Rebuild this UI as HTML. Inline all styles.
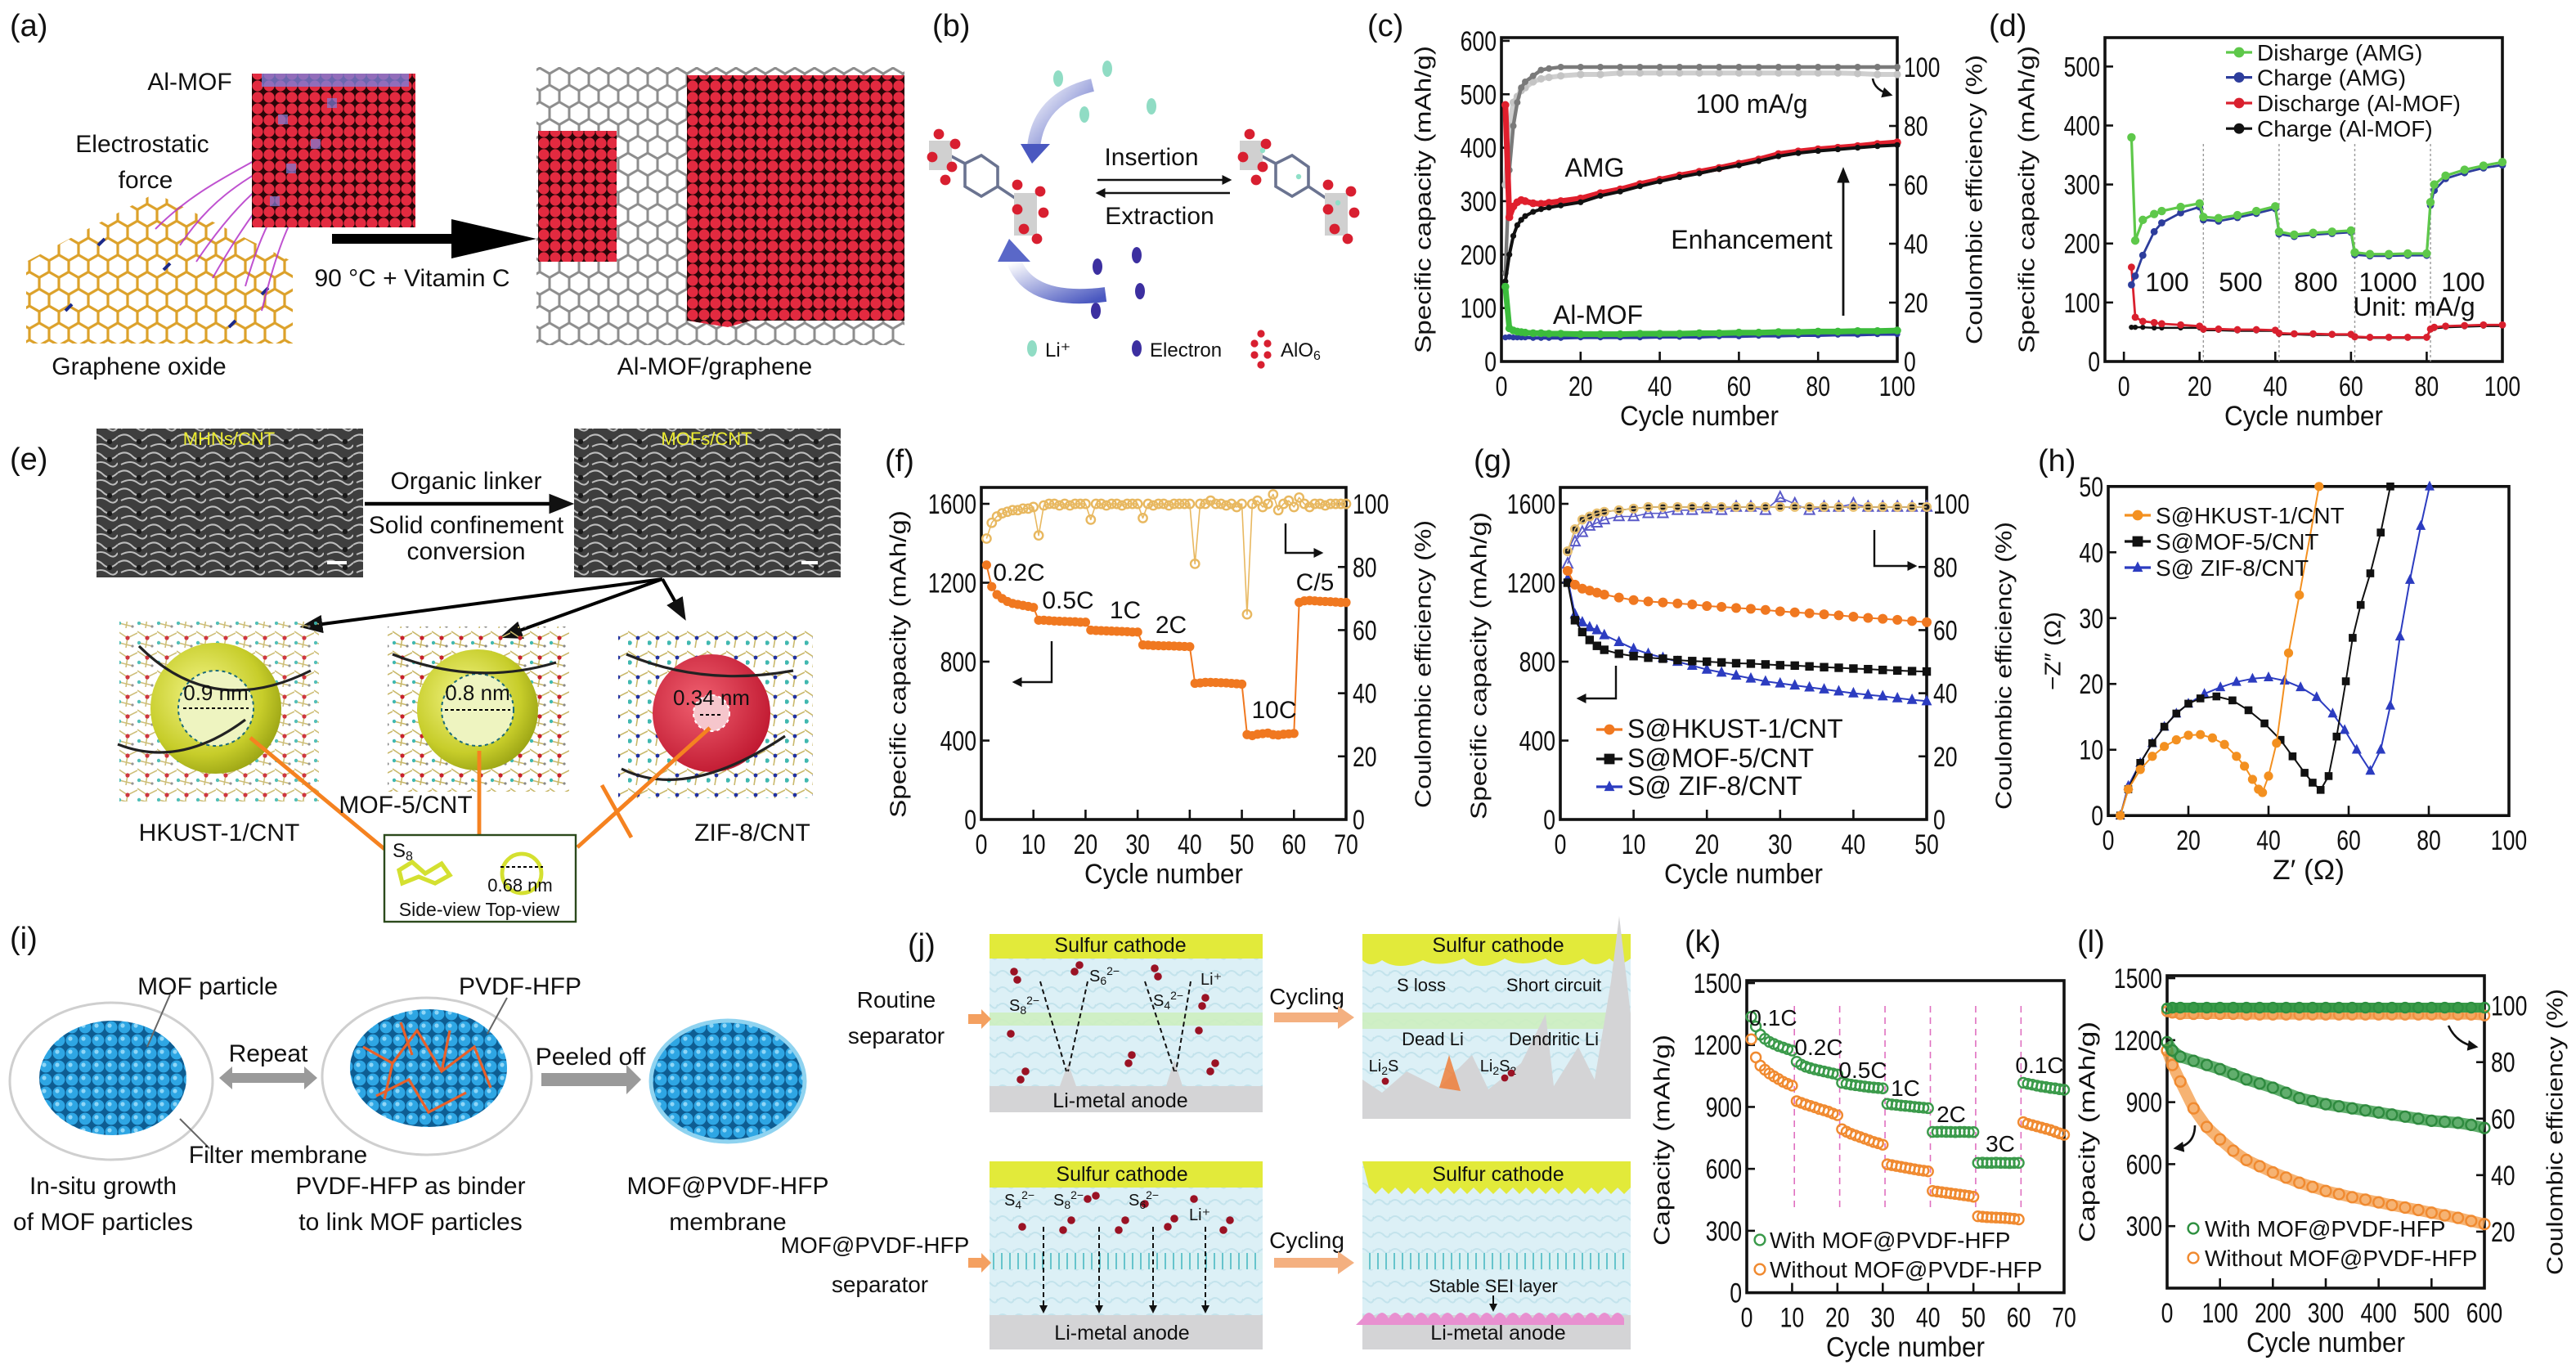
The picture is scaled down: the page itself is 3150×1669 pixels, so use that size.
<!DOCTYPE html>
<html><head><meta charset="utf-8"><title>MOF battery figure</title>
<style>
html,body{margin:0;padding:0;background:#fff;}
svg{display:block;}
text{font-family:"Liberation Sans Narrow","Liberation Sans",sans-serif;fill:#111;}
.pl{font-size:19px;font-family:"Liberation Sans",sans-serif;}
.t{font-size:15px;}
.tw{font-family:"DejaVu Sans","Liberation Sans",sans-serif;}
</style></head>
<body>
<svg id="fig" xmlns="http://www.w3.org/2000/svg" width="3150" height="1669" viewBox="0 0 1575 834.5">
<defs>
<pattern id="hexO" patternUnits="userSpaceOnUse" width="12" height="20.78"><path id="hexOp" d="" fill="none" stroke="#dca12a" stroke-width="1.6"/></pattern>
<pattern id="hexG" patternUnits="userSpaceOnUse" width="12" height="20.78"><path id="hexGp" d="" fill="none" stroke="#8d8d8d" stroke-width="1.5"/></pattern>
<pattern id="redDots" patternUnits="userSpaceOnUse" width="7" height="7"><rect width="7" height="7" fill="#2a0508"/><circle cx="3.5" cy="3.5" r="3.3" fill="#e32a40"/></pattern>
<pattern id="blueDots" patternUnits="userSpaceOnUse" width="8" height="8"><rect width="8" height="8" fill="#0e5d92"/><circle cx="4" cy="4" r="3.7" fill="#2ea6e4"/><circle cx="3" cy="3" r="1.3" fill="#8fd6f7"/></pattern>
<pattern id="sem" patternUnits="userSpaceOnUse" width="18" height="11"><rect width="18" height="11" fill="#3e3e3e"/><path d="M0,3 Q5,0 9,4 T18,3 M2,9 Q8,6 12,9 T18,8" stroke="#bdbdbd" stroke-width="1" fill="none"/><circle cx="13" cy="6" r="1.6" fill="#1a1a1a"/></pattern>
<pattern id="latt" patternUnits="userSpaceOnUse" width="12" height="12"><path d="M0,2 L6,6 L12,3 M6,6 L5,12 M1,9 L9,11" stroke="#c9b86a" stroke-width="0.8" fill="none"/><circle cx="6" cy="6" r="1.3" fill="#c8202a"/><circle cx="1" cy="9" r="1.1" fill="#40b8b0"/><circle cx="9" cy="11" r="0.8" fill="#888"/></pattern>
<pattern id="lattZ" patternUnits="userSpaceOnUse" width="12" height="12"><path d="M0,2 L6,6 L12,3 M6,6 L5,12" stroke="#c9b86a" stroke-width="0.8" fill="none"/><circle cx="6" cy="6" r="1.2" fill="#2030a0"/><circle cx="1" cy="9" r="1.4" fill="#40b8b0"/></pattern>
<pattern id="fluid" patternUnits="userSpaceOnUse" width="10" height="10"><rect width="10" height="10" fill="#dcf0f6"/><path d="M0,5 Q3,2 6,5 T10,4" stroke="#c3e3ec" stroke-width="1" fill="none"/></pattern>
<pattern id="mofSep" patternUnits="userSpaceOnUse" width="5" height="9"><rect width="5" height="9" fill="#d8f0f2"/><line x1="2.5" y1="0" x2="2.5" y2="9" stroke="#66c4cc" stroke-width="1"/></pattern>
<radialGradient id="gY" cx="40%" cy="40%" r="65%"><stop offset="0" stop-color="#f4f68a"/><stop offset="0.7" stop-color="#c7cd2a"/><stop offset="1" stop-color="#9aa314"/></radialGradient>
<radialGradient id="gR" cx="40%" cy="40%" r="65%"><stop offset="0" stop-color="#f06070"/><stop offset="1" stop-color="#c01830"/></radialGradient>
<linearGradient id="gArr" x1="0" y1="0" x2="1" y2="1"><stop offset="0" stop-color="#ffffff"/><stop offset="1" stop-color="#4a58c0"/></linearGradient>
<marker id="ah" viewBox="0 0 10 10" refX="8" refY="5" markerWidth="5" markerHeight="5" orient="auto"><path d="M0,0 L10,5 L0,10 z" fill="#111"/></marker>
<marker id="ahs" viewBox="0 0 10 10" refX="8" refY="5" markerWidth="7" markerHeight="7" orient="auto"><path d="M0,1 L10,5 L0,9 z" fill="#111"/></marker>
</defs>
<rect x="0" y="0" width="1575" height="834.5" fill="#fff"/>

<!-- ===== (a) ===== -->
<g>
<text class="pl" x="6" y="22">(a)</text>
<polygon points="16,160 95,118 179,160 179,210 16,210" fill="url(#hexO)"/>
<g stroke="#1c2a8a" stroke-width="2"><line x1="40" y1="190" x2="44" y2="186"/><line x1="100" y1="165" x2="104" y2="161"/><line x1="140" y1="200" x2="144" y2="196"/><line x1="60" y1="150" x2="64" y2="146"/><line x1="160" y1="180" x2="164" y2="176"/></g>
<g stroke="#b534c8" stroke-width="1" fill="none" opacity="0.85">
<path d="M110,150 C130,120 150,110 175,95"/><path d="M120,160 C140,130 160,110 180,100"/><path d="M95,140 C120,115 145,105 170,90"/><path d="M150,175 C160,140 170,120 190,105"/><path d="M160,190 C170,150 180,120 200,110"/><path d="M130,170 C150,135 165,115 185,98"/></g>
<rect x="154" y="45" width="100" height="94" fill="url(#redDots)"/>
<rect x="160" y="45" width="90" height="8" fill="#7d7ed8" opacity="0.8"/>
<g fill="#7d7ed8" opacity="0.7"><rect x="170" y="70" width="6" height="6"/><rect x="190" y="85" width="6" height="6"/><rect x="175" y="100" width="6" height="6"/><rect x="200" y="60" width="6" height="6"/><rect x="165" y="120" width="6" height="6"/></g>
<text class="t" x="116" y="55" text-anchor="middle">Al-MOF</text>
<text class="t" x="87" y="93" text-anchor="middle">Electrostatic</text>
<text class="t" x="89" y="115" text-anchor="middle">force</text>
<polygon points="203,143 276,143 276,134 328,146 276,158 276,149 203,149" fill="#000"/>
<text class="t" x="252" y="175" text-anchor="middle">90 °C + Vitamin C</text>
<text class="t" x="85" y="229" text-anchor="middle">Graphene oxide</text>
<rect x="328" y="41" width="225" height="170" fill="url(#hexG)"/>
<rect x="420" y="46" width="133" height="150" fill="url(#redDots)"/>
<polygon points="420,196 553,196 553,170 445,200" fill="url(#redDots)"/>
<rect x="329" y="80" width="48" height="80" fill="url(#redDots)"/>
<text class="t" x="437" y="229" text-anchor="middle">Al-MOF/graphene</text>
</g>

<!-- ===== (b) ===== -->
<g>
<text class="pl" x="570" y="22">(b)</text>
<g>
<path d="M575,92 L590,100 L600,95 L610,102 L610,114 L600,120 L590,114 L590,100 M610,114 L622,122 L630,130" stroke="#6a7390" stroke-width="1.8" fill="none"/>
<rect x="568" y="86" width="14" height="18" fill="#d0d0d0"/><rect x="620" y="118" width="14" height="26" fill="#d0d0d0"/>
<g fill="#d81f30"><circle cx="574" cy="82" r="3.2"/><circle cx="584" cy="88" r="3.2"/><circle cx="570" cy="96" r="3.2"/><circle cx="582" cy="102" r="3.2"/><circle cx="578" cy="110" r="3.2"/><circle cx="622" cy="113" r="3.2"/><circle cx="636" cy="117" r="3.2"/><circle cx="622" cy="128" r="3.2"/><circle cx="638" cy="130" r="3.2"/><circle cx="626" cy="140" r="3.2"/><circle cx="634" cy="146" r="3.2"/></g></g>
<g transform="translate(190,0)">
<path d="M575,92 L590,100 L600,95 L610,102 L610,114 L600,120 L590,114 L590,100 M610,114 L622,122 L630,130" stroke="#6a7390" stroke-width="1.8" fill="none"/>
<rect x="568" y="86" width="14" height="18" fill="#d0d0d0"/><rect x="620" y="118" width="14" height="26" fill="#d0d0d0"/>
<g fill="#d81f30"><circle cx="574" cy="82" r="3.2"/><circle cx="584" cy="88" r="3.2"/><circle cx="570" cy="96" r="3.2"/><circle cx="582" cy="102" r="3.2"/><circle cx="578" cy="110" r="3.2"/><circle cx="622" cy="113" r="3.2"/><circle cx="636" cy="117" r="3.2"/><circle cx="622" cy="128" r="3.2"/><circle cx="638" cy="130" r="3.2"/><circle cx="626" cy="140" r="3.2"/><circle cx="634" cy="146" r="3.2"/></g>
<g fill="#8fe0c8"><circle cx="582" cy="92" r="1.6"/><circle cx="604" cy="108" r="1.6"/><circle cx="628" cy="124" r="1.6"/></g></g>
<g fill="#90dcc4"><ellipse cx="647" cy="48" rx="3" ry="5"/><ellipse cx="677" cy="42" rx="3" ry="5"/><ellipse cx="663" cy="70" rx="3" ry="5"/><ellipse cx="704" cy="65" rx="3" ry="5"/></g>
<g fill="#3c2fa0"><ellipse cx="695" cy="156" rx="3" ry="5"/><ellipse cx="671" cy="163" rx="3" ry="5"/><ellipse cx="697" cy="178" rx="3" ry="5"/><ellipse cx="670" cy="190" rx="3" ry="5"/></g>
<path d="M668,52 Q635,60 632,90" stroke="url(#gArr)" stroke-width="8" fill="none"/>
<polygon points="624,88 642,88 631,100" fill="#4a58c0"/>
<path d="M676,180 Q630,186 620,160" stroke="url(#gArr)" stroke-width="9" fill="none"/>
<polygon points="610,160 630,160 617,146" fill="#5a68c8"/>
<text class="t" x="704" y="101" text-anchor="middle">Insertion</text>
<line x1="671" y1="110" x2="752" y2="110" stroke="#111" stroke-width="1.2" marker-end="url(#ah)"/>
<line x1="752" y1="118" x2="671" y2="118" stroke="#111" stroke-width="1.2" marker-end="url(#ah)"/>
<text class="t" x="709" y="137" text-anchor="middle">Extraction</text>
<ellipse cx="631" cy="213" rx="3" ry="5" fill="#90dcc4"/><text x="639" y="218" font-size="12">Li⁺</text>
<ellipse cx="695" cy="213" rx="3" ry="5" fill="#3c2fa0"/><text x="703" y="218" font-size="12">Electron</text>
<g fill="#d81f30"><circle cx="771" cy="204" r="2.3"/><circle cx="767" cy="210" r="2.3"/><circle cx="775" cy="210" r="2.3"/><circle cx="767" cy="217" r="2.3"/><circle cx="775" cy="217" r="2.3"/><circle cx="771" cy="223" r="2.3"/></g>
<text x="783" y="218" font-size="12">AlO<tspan font-size="8" dy="2">6</tspan></text>
</g>

<!-- ===== (e) ===== -->
<g>
<text class="pl" x="6" y="287">(e)</text>
<rect x="59" y="262" width="163" height="91" fill="url(#sem)"/>
<text x="140" y="272" font-size="11" style="fill:#ecec30" text-anchor="middle">MHNs/CNT</text>
<rect x="200" y="343" width="12" height="2" fill="#fff"/>
<rect x="351" y="262" width="163" height="91" fill="url(#sem)"/>
<text x="432" y="272" font-size="11" style="fill:#ecec30" text-anchor="middle">MOFs/CNT</text>
<rect x="490" y="343" width="10" height="2" fill="#fff"/>
<text class="t" x="285" y="299" text-anchor="middle">Organic linker</text>
<line x1="223" y1="308" x2="348" y2="308" stroke="#000" stroke-width="2.2" marker-end="url(#ahs)"/>
<text class="t" x="285" y="326" text-anchor="middle">Solid confinement</text>
<text class="t" x="285" y="342" text-anchor="middle">conversion</text>
<g stroke="#000" stroke-width="2" fill="none" marker-end="url(#ahs)"><line x1="405" y1="354" x2="186" y2="383"/><line x1="405" y1="354" x2="308" y2="389"/><line x1="405" y1="354" x2="418" y2="377"/></g>
<rect x="73" y="380" width="122" height="110" fill="url(#latt)" opacity="0.9"/>
<rect x="237" y="383" width="111" height="101" fill="url(#latt)"/>
<rect x="378" y="385" width="119" height="103" fill="url(#lattZ)"/>
<circle cx="132" cy="433" r="40" fill="url(#gY)"/>
<circle cx="132" cy="433" r="23" fill="#eef4c0" stroke="#1a6a7a" stroke-dasharray="2,2"/>
<circle cx="292" cy="434" r="37" fill="url(#gY)"/>
<circle cx="292" cy="434" r="22" fill="#eef4c0" stroke="#1a6a7a" stroke-dasharray="2,2"/>
<circle cx="435" cy="436" r="36" fill="url(#gR)"/>
<circle cx="435" cy="436" r="11" fill="#f6c6cc" stroke="#fff" stroke-dasharray="2,2"/>
<g stroke="#222" stroke-width="1.6" fill="none"><path d="M85,395 Q130,440 190,410"/><path d="M72,455 Q110,470 150,440"/><path d="M240,400 Q290,420 340,405"/><path d="M383,400 Q430,420 485,410"/><path d="M380,470 Q420,490 480,450"/></g>
<text x="132" y="428" font-size="13" text-anchor="middle">0.9 nm</text>
<line x1="112" y1="433" x2="152" y2="433" stroke="#000" stroke-dasharray="2,1.5"/>
<text x="292" y="428" font-size="13" text-anchor="middle">0.8 nm</text>
<line x1="272" y1="434" x2="312" y2="434" stroke="#000" stroke-dasharray="2,1.5"/>
<text x="435" y="431" font-size="13" text-anchor="middle">0.34 nm</text>
<line x1="428" y1="437" x2="442" y2="437" stroke="#000" stroke-dasharray="2,1.5"/>
<g stroke="#f58220" stroke-width="2.4"><line x1="235" y1="519" x2="153" y2="451"/><line x1="293" y1="510" x2="293" y2="459"/><line x1="353" y1="518" x2="434" y2="445"/><line x1="362" y1="510" x2="392" y2="483"/><line x1="368" y1="480" x2="386" y2="512"/></g>
<text class="t" x="134" y="514" text-anchor="middle">HKUST-1/CNT</text>
<text class="t" x="248" y="497" text-anchor="middle">MOF-5/CNT</text>
<text class="t" x="460" y="514" text-anchor="middle">ZIF-8/CNT</text>
<rect x="235" y="510.5" width="117" height="53" fill="#fff" stroke="#2c4a1c" stroke-width="1.2"/>
<text x="240" y="524" font-size="12">S<tspan font-size="8" dy="2">8</tspan></text>
<path d="M244,532 L252,527 L260,534 L270,528 L275,535 L266,540 L256,536 L246,540Z" fill="none" stroke="#d4e030" stroke-width="2.6"/>
<circle cx="319" cy="534" r="12" fill="none" stroke="#d4e030" stroke-width="2.4"/>
<line x1="306" y1="530" x2="332" y2="530" stroke="#000" stroke-dasharray="2,1.5"/>
<text x="318" y="545" font-size="11" text-anchor="middle">0.68 nm</text>
<text x="293" y="560" font-size="11.5" text-anchor="middle">Side-view  Top-view</text>
</g>

<!-- ===== (i) ===== -->
<g>
<text class="pl" x="6" y="580">(i)</text>
<ellipse cx="68" cy="661" rx="62" ry="48" fill="#fff" stroke="#cfcfcf" stroke-width="1.5"/>
<ellipse cx="69" cy="659" rx="45" ry="35" fill="url(#blueDots)"/>
<ellipse cx="261" cy="658" rx="64" ry="48" fill="#fff" stroke="#cfcfcf" stroke-width="1.5"/>
<ellipse cx="262" cy="653" rx="48" ry="36" fill="url(#blueDots)"/>
<g stroke="#e8602a" stroke-width="1.6" fill="none"><path d="M222,640 L240,650 L255,630 L270,655 L290,640 L300,665"/><path d="M230,670 L250,660 L262,680 L285,668"/><path d="M245,625 L252,645 M275,630 L270,655 M240,650 L235,672"/></g>
<ellipse cx="445" cy="661" rx="47" ry="37" fill="url(#blueDots)" stroke="#8fd3f0" stroke-width="2.5"/>
<line x1="104" y1="608" x2="90" y2="640" stroke="#666"/>
<line x1="310" y1="610" x2="298" y2="632" stroke="#666"/>
<line x1="110" y1="684" x2="128" y2="702" stroke="#666"/>
<text class="t" x="127" y="608" text-anchor="middle">MOF particle</text>
<text class="t" x="318" y="608" text-anchor="middle">PVDF-HFP</text>
<text class="t" x="164" y="649" text-anchor="middle">Repeat</text>
<polygon points="134,659 142,652 142,656 186,656 186,652 194,659 186,666 186,662 142,662 142,666" fill="#9a9a9a"/>
<text class="t" x="361" y="651" text-anchor="middle">Peeled off</text>
<polygon points="331,656 383,656 383,651 392,660 383,669 383,664 331,664" fill="#9a9a9a"/>
<text class="t" x="170" y="711" text-anchor="middle">Filter membrane</text>
<text class="t" x="63" y="730" text-anchor="middle">In-situ growth</text>
<text class="t" x="63" y="752" text-anchor="middle">of MOF particles</text>
<text class="t" x="251" y="730" text-anchor="middle">PVDF-HFP as binder</text>
<text class="t" x="251" y="752" text-anchor="middle">to link MOF particles</text>
<text class="t" x="445" y="730" text-anchor="middle">MOF@PVDF-HFP</text>
<text class="t" x="445" y="752" text-anchor="middle">membrane</text>
</g>

<!-- ===== (j) ===== -->
<g>
<text class="pl" x="555" y="584">(j)</text>
<g>
<rect x="605" y="571" width="167" height="109" fill="url(#fluid)"/>
<rect x="605" y="571" width="167" height="15" fill="#e2ea3a"/>
<rect x="605" y="619" width="167" height="8" fill="#cdeec0" opacity="0.9"/>
<rect x="605" y="664" width="167" height="16" fill="#d4d4d6"/>
<polygon points="648,664 653,650 658,664" fill="#d4d4d6"/><polygon points="713,664 718,648 723,664" fill="#d4d4d6"/>
<text x="685" y="582" font-size="12.5" text-anchor="middle">Sulfur cathode</text>
<text x="685" y="677" font-size="12.5" text-anchor="middle">Li-metal anode</text>
<g stroke="#111" stroke-dasharray="3,2" stroke-width="1"><line x1="636" y1="600" x2="652" y2="655"/><line x1="665" y1="600" x2="653" y2="655"/><line x1="700" y1="600" x2="718" y2="655"/><line x1="728" y1="600" x2="719" y2="655"/></g>
<g fill="#9a1224"><circle cx="620" cy="594" r="2.4"/><circle cx="622" cy="599" r="2.4"/><circle cx="657" cy="594" r="2.4"/><circle cx="660" cy="590" r="2.4"/><circle cx="706" cy="592" r="2.4"/><circle cx="708" cy="597" r="2.4"/><circle cx="737" cy="610" r="2.4"/><circle cx="735" cy="615" r="2.4"/><circle cx="624" cy="660" r="2.4"/><circle cx="627" cy="655" r="2.4"/><circle cx="690" cy="650" r="2.4"/><circle cx="692" cy="645" r="2.4"/><circle cx="740" cy="655" r="2.4"/><circle cx="743" cy="650" r="2.4"/><circle cx="618" cy="632" r="2.4"/><circle cx="733" cy="630" r="2.4"/></g>
<text x="617" y="618" font-size="10">S<tspan font-size="7" dy="2">8</tspan><tspan font-size="7" dy="-6">2−</tspan></text>
<text x="666" y="600" font-size="10">S<tspan font-size="7" dy="2">6</tspan><tspan font-size="7" dy="-6">2−</tspan></text>
<text x="705" y="615" font-size="10">S<tspan font-size="7" dy="2">4</tspan><tspan font-size="7" dy="-6">2−</tspan></text>
<text x="734" y="602" font-size="10">Li⁺</text>
</g>
<g>
<rect x="833" y="571" width="164" height="113" fill="url(#fluid)"/>
<path d="M833,571 H997 V586 Q990,592 984,586 Q975,593 968,586 Q955,594 945,586 Q930,592 920,586 Q905,595 895,586 Q880,592 870,587 Q855,594 845,587 Q838,592 833,587Z" fill="#e2ea3a"/>
<rect x="833" y="619" width="164" height="10" fill="#cdeec0" opacity="0.9"/>
<path d="M833,684 V660 L845,668 L860,655 L880,665 L900,645 L910,666 L930,650 L945,620 L950,664 L965,640 L975,660 L985,600 L990,560 L997,620 V684Z" fill="#d4d4d6"/>
<text x="916" y="582" font-size="12.5" text-anchor="middle">Sulfur cathode</text>
<text x="869" y="606" font-size="11" text-anchor="middle">S loss</text>
<text x="950" y="606" font-size="11" text-anchor="middle">Short circuit</text>
<text x="876" y="639" font-size="11" text-anchor="middle">Dead Li</text>
<text x="950" y="639" font-size="11" text-anchor="middle">Dendritic Li</text>
<text x="846" y="655" font-size="10" text-anchor="middle">Li<tspan font-size="7" dy="2">2</tspan><tspan dy="-2">S</tspan></text>
<text x="916" y="655" font-size="10" text-anchor="middle">Li<tspan font-size="7" dy="2">2</tspan><tspan dy="-2">S</tspan><tspan font-size="7" dy="2">2</tspan></text>
<polygon points="880,665 886,645 893,667" fill="#f07830" opacity="0.8"/>
<g fill="#9a1224"><circle cx="847" cy="661" r="2.2"/><circle cx="920" cy="659" r="2.2"/><circle cx="924" cy="656" r="2.2"/></g>
</g>
<text x="548" y="616" font-size="14" text-anchor="middle">Routine</text>
<text x="548" y="638" font-size="14" text-anchor="middle">separator</text>
<polygon points="592,620 600,620 600,617 606,623 600,629 600,626 592,626" fill="#f4a060"/>
<text x="799" y="614" font-size="14" text-anchor="middle">Cycling</text>
<polygon points="779,619 818,619 818,615 828,622 818,629 818,625 779,625" fill="#f4b080"/>
<g>
<rect x="605" y="710" width="167" height="115" fill="url(#fluid)"/>
<rect x="605" y="710" width="167" height="16" fill="#e2ea3a"/>
<rect x="605" y="766" width="167" height="10" fill="url(#mofSep)"/>
<rect x="605" y="804" width="167" height="21" fill="#d4d4d6"/>
<text x="686" y="722" font-size="12.5" text-anchor="middle">Sulfur cathode</text>
<text x="686" y="819" font-size="12.5" text-anchor="middle">Li-metal anode</text>
<g stroke="#111" stroke-dasharray="3,2"><line x1="638" y1="750" x2="638" y2="802" marker-end="url(#ah)"/><line x1="672" y1="750" x2="672" y2="802" marker-end="url(#ah)"/><line x1="705" y1="750" x2="705" y2="802" marker-end="url(#ah)"/><line x1="737" y1="750" x2="737" y2="802" marker-end="url(#ah)"/></g>
<g fill="#9a1224"><circle cx="625" cy="750" r="2.4"/><circle cx="650" cy="752" r="2.4"/><circle cx="655" cy="746" r="2.4"/><circle cx="684" cy="752" r="2.4"/><circle cx="688" cy="746" r="2.4"/><circle cx="714" cy="750" r="2.4"/><circle cx="718" cy="745" r="2.4"/><circle cx="748" cy="752" r="2.4"/><circle cx="752" cy="746" r="2.4"/><circle cx="665" cy="733" r="2.4"/><circle cx="670" cy="731" r="2.4"/><circle cx="700" cy="736" r="2.4"/><circle cx="730" cy="733" r="2.4"/></g>
<text x="614" y="737" font-size="10">S<tspan font-size="7" dy="2">4</tspan><tspan font-size="7" dy="-6">2−</tspan></text>
<text x="644" y="737" font-size="10">S<tspan font-size="7" dy="2">8</tspan><tspan font-size="7" dy="-6">2−</tspan></text>
<text x="690" y="737" font-size="10">S<tspan font-size="7" dy="2">6</tspan><tspan font-size="7" dy="-6">2−</tspan></text>
<text x="727" y="746" font-size="10">Li⁺</text>
</g>
<g>
<rect x="833" y="710" width="164" height="115" fill="url(#fluid)"/>
<path d="M833,710 H997 V726 l-4,4 l-4,-4 l-4,4 l-4,-4 l-4,4 l-4,-4 l-4,4 l-4,-4 l-4,4 l-4,-4 l-4,4 l-4,-4 l-4,4 l-4,-4 l-4,4 l-4,-4 l-4,4 l-4,-4 l-4,4 l-4,-4 l-4,4 l-4,-4 l-4,4 l-4,-4 l-4,4 l-4,-4 l-4,4 l-4,-4 l-4,4 l-4,-4 l-4,4 l-4,-4 l-4,4 l-4,-4 l-4,4 l-4,-4 l-4,4 l-4,-4 l-4,4 l-4,-4 Z" fill="#e2ea3a"/>
<rect x="833" y="766" width="164" height="10" fill="url(#mofSep)"/>
<rect x="833" y="804" width="164" height="21" fill="#d4d4d6"/>
<path d="M833,806 q4,-7 8,0 q4,-7 8,0 q4,-7 8,0 q4,-7 8,0 q4,-7 8,0 q4,-7 8,0 q4,-7 8,0 q4,-7 8,0 q4,-7 8,0 q4,-7 8,0 q4,-7 8,0 q4,-7 8,0 q4,-7 8,0 q4,-7 8,0 q4,-7 8,0 q4,-7 8,0 q4,-7 8,0 q4,-7 8,0 q4,-7 8,0 q4,-7 8,0 v4 h-164z" fill="#e890d0"/>
<text x="916" y="722" font-size="12.5" text-anchor="middle">Sulfur cathode</text>
<text x="913" y="790" font-size="11" text-anchor="middle">Stable SEI layer</text>
<line x1="913" y1="792" x2="913" y2="801" stroke="#111" marker-end="url(#ah)"/>
<text x="916" y="819" font-size="12.5" text-anchor="middle">Li-metal anode</text>
</g>
<text x="535" y="766" font-size="14" text-anchor="middle">MOF@PVDF-HFP</text>
<text x="538" y="790" font-size="14" text-anchor="middle">separator</text>
<polygon points="592,769 600,769 600,766 606,772 600,778 600,775 592,775" fill="#f4a060"/>
<text x="799" y="763" font-size="14" text-anchor="middle">Cycling</text>
<polygon points="779,769 818,769 818,765 828,772 818,779 818,775 779,775" fill="#f4b080"/>
</g>

<text class="pl" x="836" y="22">(c)</text>
<text class="pl" x="1216" y="22">(d)</text>
<text class="pl" x="541" y="288">(f)</text>
<text class="pl" x="901" y="288">(g)</text>
<text class="pl" x="1246" y="288">(h)</text>
<text class="pl" x="1030" y="582">(k)</text>
<text class="pl" x="1270" y="582">(l)</text>
<g id="charts"></g>
</svg>

<script>
// ---------- chart data ----------
const cCycles = [1,2,3,4,5,6,8,10,12,15,20,25,30,35,40,45,50,55,60,65,70,75,80,85,90,95,100];
const cAmgDis = [480,270,290,298,302,300,296,295,297,300,305,315,322,332,340,348,355,362,370,378,388,393,397,400,403,407,410];
const cAmgChg = [150,200,235,255,265,272,280,285,288,292,298,310,318,328,337,345,352,360,367,375,384,390,394,397,400,403,405];
const cMofDis = [140,62,58,56,55,54,53,53,52,52,51,51,51,52,52,52,53,53,54,54,55,55,56,56,57,57,58];
const cMofChg = [45,46,45,45,45,45,44,44,44,44,45,45,45,45,46,46,46,47,47,48,48,49,49,50,50,51,51];
const cCeAmg = [30,65,80,88,93,95,97,99,99.5,100,100,100,100,100,100,100,100,100,100,100,100,100,100,100,100,100,100];
const cCeMof = [60,80,88,90,92,93,95,96,96.5,97,97.5,97.5,98,98,98,98,98,98,98,98,98,98,98,98,97.8,97.5,97.5];
const cXTicks = [0,20,40,60,80,100];
const cYTicks = [0,100,200,300,400,500,600];
const cRTicks = [0,20,40,60,80,100];
const dCycles = [2,3,5,8,10,15,20,21,25,30,35,40,41,45,50,55,60,61,65,70,75,80,81,82,85,90,95,100];
const dAmgDis = [380,205,240,250,255,262,268,245,243,248,255,263,220,215,218,220,222,185,182,182,183,183,270,300,315,325,332,338];
const dAmgChg = [130,145,180,220,235,252,262,240,238,244,251,259,216,212,215,217,219,181,179,179,180,180,265,290,310,320,328,333];
const dMofDis = [160,75,68,66,64,62,60,55,55,54,54,53,48,47,47,46,46,42,41,41,41,41,55,58,60,61,62,62];
const dMofChg = [58,58,58,57,57,57,57,53,53,52,52,52,46,46,45,45,45,41,40,40,40,40,54,56,58,59,60,60];
const dSteps = [21,41,61,81];
const dXTicks = [0,20,40,60,80,100];
const dYTicks = [0,100,200,300,400,500];
const fCap = [1290,1180,1140,1120,1105,1095,1090,1085,1080,1075,1010,1010,1008,1006,1005,1004,1003,1002,1000,1000,960,958,957,956,955,954,953,952,950,950,885,884,882,881,880,880,879,878,877,876,690,692,695,695,694,693,692,690,688,686,430,425,432,435,438,430,428,432,434,436,1100,1108,1110,1108,1106,1105,1104,1102,1100,1100];
const fCe = [89,94,96,97,97.5,98,98,98.5,98.5,99,90,99.5,100,100,99.5,100,99.5,100,100,100,95,100,100,99.5,100,100,99.5,100,100,100,95.5,100,99.5,100,100,99.5,100,100,100,100,81,100,100,101,100,100,99.5,100,99,100,65,100,101,99,100,103,98,100,101,99,102,100,99,100,100,99.5,100,100,100,100];
const fXTicks = [0,10,20,30,40,50,60,70];
const fYTicks = [0,400,800,1200,1600];
const fRTicks = [0,20,40,60,80,100];
const gCycles = [1,2,3,4,5,6,8,10,12,14,16,18,20,22,24,26,28,30,32,34,36,38,40,42,44,46,48,50];
const gHk = [1260,1190,1170,1160,1150,1140,1125,1112,1105,1100,1095,1090,1082,1078,1072,1068,1062,1055,1050,1045,1040,1035,1028,1022,1017,1012,1006,1000];
const gMof = [1200,1010,950,910,880,860,840,828,820,815,808,803,800,796,792,790,786,782,780,776,772,769,765,762,758,755,752,750];
const gZif = [1220,1040,1000,975,960,935,900,865,840,820,800,780,760,745,730,715,700,690,680,670,660,650,640,632,625,615,607,600];
const gCeHk = [85,92,95,96,97,97.5,98,98.5,99,99,99,99,99,99,99,99,99,99,99,99,99,99,99,99,99,99,99,99];
const gCeZif = [81,88,91,93,94,95,96,96,97,97,98,98,98.5,98,99,99,98,102,100,98,99,99,100,99,99,99,99,99];
const gXTicks = [0,10,20,30,40,50];
const gYTicks = [0,400,800,1200,1600];
const gRTicks = [0,20,40,60,80,100];
const hHx = [3,5,8,11,14,17,20,23,26,29,32,34,36,37.5,38.5,40,42,45,47.7,52.6];
const hHy = [0,4,7,9,10.5,11.5,12.2,12.3,11.8,10.8,9,7.5,5.5,4,3.5,6,11,24.7,33.5,50];
const hMx = [3,5,8,11,14,17,20,23,27,31,35,39,43,46,49,51,53,55,57,59.3,61,63,65.4,68,70.4];
const hMy = [0,4,8,11,13.5,15.5,17,17.8,18.1,17.5,16,14,11.5,9,6.5,5,3.9,6,12,20.4,27,32,36.8,43,50];
const hZx = [3,5,8,11,14,17,20,24,28,32,36,40,44,48,52,56,59,62,65.4,68,70.4,72.8,75.3,78,80.2];
const hZy = [0,4.5,8,11,13.5,15.5,17,18.5,19.5,20.3,20.8,21,20.5,19.5,18,15.5,13,10,6.8,10,16.7,27.2,35.8,44,50];
const hXTicks = [0,20,40,60,80,100];
const hYTicks = [0,10,20,30,40,50];
const kWith = [1337,1290,1250,1230,1215,1205,1195,1188,1180,1173,1119,1105,1095,1088,1082,1077,1072,1067,1062,1057,1017,1012,1008,1005,1002,999,996,994,992,990,915,912,910,907,905,903,900,898,896,894,779,779,780,779,779,778,779,779,778,778,629,630,629,629,630,629,629,628,629,629,1017,1012,1008,1003,999,996,992,990,986,983];
const kWithout = [1228,1140,1100,1080,1062,1048,1035,1022,1012,1003,928,920,912,905,898,890,884,877,868,860,792,780,770,762,754,746,738,730,724,717,622,618,614,610,606,602,598,594,591,588,493,490,487,484,481,478,475,472,469,465,370,368,366,365,364,363,362,360,358,355,826,818,812,806,800,794,788,780,772,765];
const kSteps = [10.5,20.5,30.5,40.5,50.5,60.5];
const kXTicks = [0,10,20,30,40,50,60,70];
const kYTicks = [0,300,600,900,1200,1500];
const lCycles = [0,10,25,50,75,100,125,150,175,200,225,250,275,300,325,350,375,400,425,450,475,500,525,550,575,600];
const lWith = [1190,1150,1120,1100,1080,1060,1035,1010,990,970,945,920,905,890,880,870,860,850,840,830,820,810,805,800,790,775];
const lWithout = [1150,1080,1000,870,780,720,665,620,590,560,535,510,490,470,455,440,428,415,402,390,378,365,352,340,325,310];
const lCeWith = [99,99.3,99.3,99.3,99.3,99.3,99.3,99.3,99.3,99.3,99.3,99.3,99.3,99.3,99.3,99.3,99.3,99.3,99.3,99.3,99.3,99.3,99.3,99.3,99.3,99.3];
const lCeWithout = [98,97.5,97,97,97,97,97,96.8,96.8,96.8,96.8,96.8,96.8,96.8,96.8,96.8,96.8,96.8,96.8,96.8,96.8,96.8,96.8,96.8,96.8,96.5];
const lXTicks = [0,100,200,300,400,500,600];
const lYTicks = [300,600,900,1200,1500];
const lRTicks = [20,40,60,80,100];

// ---------- helpers ----------
const NS = 'http://www.w3.org/2000/svg';
function mk(parent, tag, attrs, txt) {
  const e = document.createElementNS(NS, tag);
  for (const k in attrs) e.setAttribute(k, attrs[k]);
  if (txt !== undefined) e.textContent = txt;
  parent.appendChild(e);
  return e;
}
function hexPath() {
  const cs = [[6,6.93],[0,17.32],[12,17.32],[0,-3.46],[12,-3.46],[6,27.71]];
  let d = '';
  cs.forEach(([cx,cy]) => {
    d += `M${cx},${cy-6.93}L${cx+6},${cy-3.46}L${cx+6},${cy+3.46}L${cx},${cy+6.93}L${cx-6},${cy+3.46}L${cx-6},${cy-3.46}Z`;
  });
  return d;
}
document.getElementById('hexOp').setAttribute('d', hexPath());
document.getElementById('hexGp').setAttribute('d', hexPath());

const root = document.getElementById('charts');
const FN = '"Liberation Sans Narrow","Liberation Sans",sans-serif';
const tl = s => String(s).length * 7.4;

function makeAxes(o) {
  const g = mk(root, 'g', {});
  
  
  const sx = v => o.x0 + (v - o.xmin) / (o.xmax - o.xmin) * (o.x1 - o.x0);
  const sy = v => o.y1 - (v - o.ymin) / (o.ymax - o.ymin) * (o.y1 - o.y0);
  const sr = o.rmax ? (v => o.y1 - v / o.rmax * (o.y1 - o.y0)) : null;
  const frame = mk(g, 'rect', {x:o.x0, y:o.y0, width:o.x1-o.x0, height:o.y1-o.y0, fill:'none', stroke:'#111', 'stroke-width':1.8});
  
  
  o.xticks.forEach(v => {
    const x = sx(v);
    const tk = mk(g, 'line', {x1:x, y1:o.y1, x2:x, y2:o.y1-6, stroke:'#111', 'stroke-width':1.3});
    
    
    const lb = mk(g, 'text', {x:x, y:o.y1+21, 'text-anchor':'middle', 'font-size':17, 'font-family':FN, textLength:tl(v), lengthAdjust:'spacingAndGlyphs'}, String(v));
    
    
  });
  o.yticks.forEach(v => {
    const y = sy(v);
    const tk = mk(g, 'line', {x1:o.x0, y1:y, x2:o.x0+5, y2:y, stroke:'#111', 'stroke-width':1.3});
    
    
    const lb = mk(g, 'text', {x:o.x0-3, y:y+6, 'text-anchor':'end', 'font-size':17, 'font-family':FN, textLength:tl(v), lengthAdjust:'spacingAndGlyphs'}, String(v));
    
    
  });
  if (o.rticks) o.rticks.forEach(v => {
    const y = sr(v);
    const tk = mk(g, 'line', {x1:o.x1, y1:y, x2:o.x1-5, y2:y, stroke:'#111', 'stroke-width':1.3});
    
    
    const lb = mk(g, 'text', {x:o.x1+4, y:y+6, 'text-anchor':'start', 'font-size':17, 'font-family':FN, textLength:tl(v), lengthAdjust:'spacingAndGlyphs'}, String(v));
    
    
  });
  const xt = mk(g, 'text', {x:(o.x0+o.x1)/2, y:o.y1+39, 'text-anchor':'middle', 'font-size':17, 'font-family':FN, textLength:o.xtitleLen || 97, lengthAdjust:'spacingAndGlyphs'}, o.xtitle);
  
  
  const cy = o.ytitleY || (o.y0+o.y1)/2;
  const yt = mk(g, 'text', {x:o.ytitleX, y:cy, 'text-anchor':'middle', 'font-size':14, 'font-family':'"DejaVu Sans","Liberation Sans",sans-serif', transform:`rotate(-90 ${o.ytitleX} ${cy})`, textLength:o.ytitleLen, lengthAdjust:'spacingAndGlyphs', 'dominant-baseline':'middle'}, o.ytitle);
  
  
  if (o.rtitle) {
    const rt = mk(g, 'text', {x:o.rtitleX, y:cy, 'text-anchor':'middle', 'font-size':14, 'font-family':'"DejaVu Sans","Liberation Sans",sans-serif', transform:`rotate(-90 ${o.rtitleX} ${cy})`, textLength:o.rtitleLen, lengthAdjust:'spacingAndGlyphs', 'dominant-baseline':'middle'}, o.rtitle);
    
    
  }
  return {g, sx, sy, sr, o};
}

function marker(g, type, x, y, s, color, name) {
  let e;
  if (type === 'circle') e = mk(g, 'circle', {cx:x, cy:y, r:s, fill:color});
  else if (type === 'ocircle') e = mk(g, 'circle', {cx:x, cy:y, r:s, fill:'none', stroke:color, 'stroke-width':1.2});
  else if (type === 'square') e = mk(g, 'rect', {x:x-s, y:y-s, width:2*s, height:2*s, fill:color});
  else if (type === 'tri') e = mk(g, 'polygon', {points:`${x},${y-s*1.2} ${x+s},${y+s*0.8} ${x-s},${y+s*0.8}`, fill:color});
  else e = mk(g, 'polygon', {points:`${x},${y-s*1.2} ${x+s},${y+s*0.8} ${x-s},${y+s*0.8}`, fill:'none', stroke:color, 'stroke-width':1});
  
  
  return e;
}

function series(ax, xs, ys, st) {
  const g = mk(ax.g, 'g', {});
  
  
  const fy = st.right ? ax.sr : ax.sy;
  const pts = xs.map((v, i) => [ax.sx(v), fy(ys[i])]);
  if (st.lw) {
    const ln = mk(g, 'polyline', {points:pts.map(p => p.join(',')).join(' '), fill:'none', stroke:st.lc || st.color, 'stroke-width':st.lw, 'stroke-linejoin':'round', opacity:st.lo || 1});
    
    
  }
  if (st.m) pts.forEach(p => marker(g, st.m, p[0], p[1], st.ms, st.color, st.name + '-point'));
  return g;
}

function txt(ax, x, y, s, size, anchor, name) {
  const t = mk(ax.g, 'text', {x:x, y:y, 'font-size':size || 15, 'text-anchor':anchor || 'middle', 'font-family':FN}, s);
  
  
  return t;
}
function path(ax, d, attrs, name) {
  const p = mk(ax.g, 'path', Object.assign({d:d, fill:'none', stroke:'#111', 'stroke-width':1.3}, attrs || {}));
  
  
  return p;
}
function legendRow(ax, x, y, type, color, label, name, fs) {
  const ln = mk(ax.g, 'line', {x1:x-8, y1:y, x2:x+8, y2:y, stroke:color, 'stroke-width':1.6});
  
  
  marker(ax.g, type, x, y, 3.2, color, name + '-marker');
  const t = mk(ax.g, 'text', {x:x+11, y:y+5, 'font-size':fs || 15, 'font-family':FN}, label);
  
  
}
const range = n => Array.from({length:n}, (_, i) => i + 1);

// ---------- (c) ----------
const C = makeAxes({name:'chart-c', x0:918, x1:1160, y0:23, y1:221, xmin:0, xmax:100, ymin:0, ymax:606, rmax:110,
  xticks:cXTicks, yticks:cYTicks, rticks:cRTicks, xtitle:'Cycle number', ytitle:'Specific capacity (mAh/g)', ytitleX:871, ytitleLen:188,
  rtitle:'Coulombic efficiency (%)', rtitleX:1208, rtitleLen:177});
series(C, cCycles, cCeMof, {name:'ce-al-mof', right:true, color:'#c4c4c4', m:'circle', ms:2.3, lw:3, lc:'#cfcfcf'});
series(C, cCycles, cCeAmg, {name:'ce-amg', right:true, color:'#7a7a7a', m:'circle', ms:2, lw:2.2});
series(C, cCycles, cAmgDis, {name:'amg-discharge', color:'#e01f2d', m:'circle', ms:2.4, lw:3.5});
series(C, cCycles, cAmgChg, {name:'amg-charge', color:'#111', m:'circle', ms:1.8, lw:2});
series(C, cCycles, cMofChg, {name:'al-mof-charge', color:'#2b3aa0', m:'circle', ms:1.8, lw:2});
series(C, cCycles, cMofDis, {name:'al-mof-discharge', color:'#3cbc3c', m:'circle', ms:2.4, lw:3.5});
txt(C, 1071, 69, '100 mA/g', 16, 'middle', 'rate-annotation');
txt(C, 975, 108, 'AMG', 16, 'middle', 'amg-annotation');
txt(C, 1071, 152, 'Enhancement', 16, 'middle', 'enhancement-annotation');
txt(C, 977, 198, 'Al-MOF', 16, 'middle', 'al-mof-annotation');
path(C, 'M1127,193 L1127,104', {'marker-end':'url(#ahs)', 'stroke-width':1.4}, 'enhancement-arrow');
path(C, 'M1145,48 Q1146,55 1156,58', {'marker-end':'url(#ah)'}, 'ce-arrow');

// ---------- (d) ----------
const D = makeAxes({name:'chart-d', x0:1287, x1:1530, y0:23, y1:221, xmin:-5, xmax:100, ymin:0, ymax:549,
  xticks:dXTicks, yticks:dYTicks, xtitle:'Cycle number', ytitle:'Specific capacity (mAh/g)', ytitleX:1240, ytitleLen:188});
dSteps.forEach(c => {
  const l = mk(D.g, 'line', {x1:D.sx(c), y1:88, x2:D.sx(c), y2:221, stroke:'#999', 'stroke-width':0.7, 'stroke-dasharray':'1.5,1.5'});
  
  
});
series(D, dCycles, dMofChg, {name:'charge-al-mof', color:'#111', m:'circle', ms:1.6, lw:1.2});
series(D, dCycles, dMofDis, {name:'discharge-al-mof', color:'#d9202e', m:'circle', ms:2.2, lw:1.4});
series(D, dCycles, dAmgChg, {name:'charge-amg', color:'#2d3d9c', m:'circle', ms:2.2, lw:1.4});
series(D, dCycles, dAmgDis, {name:'discharge-amg', color:'#5ec84a', m:'circle', ms:2.6, lw:1.6});
legendRow(D, 1369, 32, 'circle', '#5ec84a', 'Disharge (AMG)', 'legend-discharge-amg', 14);
legendRow(D, 1369, 47.3, 'circle', '#2d3d9c', 'Charge (AMG)', 'legend-charge-amg', 14);
legendRow(D, 1369, 63, 'circle', '#d9202e', 'Discharge (Al-MOF)', 'legend-discharge-al-mof', 14);
legendRow(D, 1369, 78.6, 'circle', '#111', 'Charge (Al-MOF)', 'legend-charge-al-mof', 14);
txt(D, 1325, 178, '100', 16); txt(D, 1370, 178, '500', 16); txt(D, 1416, 178, '800', 16); txt(D, 1460, 178, '1000', 16); txt(D, 1506, 178, '100', 16);
txt(D, 1476, 193, 'Unit: mA/g', 16, 'middle', 'unit-annotation');

// ---------- (f) ----------
const F = makeAxes({name:'chart-f', x0:600, x1:823, y0:298, y1:501, xmin:0, xmax:70, ymin:0, ymax:1683, rmax:105.2,
  xticks:fXTicks, yticks:fYTicks, rticks:fRTicks, xtitle:'Cycle number', ytitle:'Specific capacity (mAh/g)', ytitleX:550, ytitleY:406, ytitleLen:188,
  rtitle:'Coulombic efficiency (%)', rtitleX:871, rtitleLen:176});
series(F, range(70), fCe, {name:'ce-rate', right:true, color:'#e8b860', m:'ocircle', ms:2.6, lw:0.8});
series(F, range(70), fCap, {name:'capacity-rate', color:'#f07820', m:'circle', ms:2.8, lw:1});
txt(F, 623, 355, '0.2C', 15); txt(F, 653, 372, '0.5C', 15); txt(F, 688, 378, '1C', 15); txt(F, 716, 387, '2C', 15); txt(F, 779, 439, '10C', 15); txt(F, 804, 361, 'C/5', 15);
path(F, 'M643,392 L643,417 L620,417', {'marker-end':'url(#ah)', 'stroke-width':1.2}, 'left-axis-arrow');
path(F, 'M786,320 L786,338 L808,338', {'marker-end':'url(#ah)', 'stroke-width':1.2}, 'right-axis-arrow');

// ---------- (g) ----------
const G = makeAxes({name:'chart-g', x0:954, x1:1178, y0:298, y1:501, xmin:0, xmax:50, ymin:0, ymax:1683, rmax:105.2,
  xticks:gXTicks, yticks:gYTicks, rticks:gRTicks, xtitle:'Cycle number', ytitle:'Specific capacity (mAh/g)', ytitleX:905, ytitleY:407, ytitleLen:188,
  rtitle:'Coulombic efficiency (%)', rtitleX:1226, rtitleLen:176});
series(G, gCycles, gCeZif, {name:'ce-zif8', right:true, color:'#5a5ac8', m:'otri', ms:3, lw:0.8});
series(G, gCycles, gCeHk, {name:'ce-mof5', right:true, color:'#222', m:'square', ms:1.6, lw:0.8});
series(G, gCycles, gCeHk, {name:'ce-hkust', right:true, color:'#e8c070', m:'ocircle', ms:2.4, lw:0.8});
series(G, gCycles, gZif, {name:'capacity-zif8', color:'#2c3cc0', m:'tri', ms:3.2, lw:1});
series(G, gCycles, gMof, {name:'capacity-mof5', color:'#111', m:'square', ms:2.6, lw:1});
series(G, gCycles, gHk, {name:'capacity-hkust', color:'#f07820', m:'circle', ms:3, lw:1});
legendRow(G, 984, 446, 'circle', '#f07820', 'S@HKUST-1/CNT', 'legend-hkust', 16);
legendRow(G, 984, 464, 'square', '#111', 'S@MOF-5/CNT', 'legend-mof5', 16);
legendRow(G, 984, 481, 'tri', '#2c3cc0', 'S@ ZIF-8/CNT', 'legend-zif8', 16);
path(G, 'M988,407 L988,427 L965,427', {'marker-end':'url(#ah)', 'stroke-width':1.2}, 'left-axis-arrow');
path(G, 'M1146,324 L1146,346 L1171,346', {'marker-end':'url(#ah)', 'stroke-width':1.2}, 'right-axis-arrow');

// ---------- (h) ----------
const H = makeAxes({name:'chart-h', x0:1289, x1:1534, y0:297.4, y1:498.6, xmin:0, xmax:100, ymin:0, ymax:50,
  xticks:hXTicks, yticks:hYTicks, xtitle:'Z′ (Ω)', xtitleLen:44, ytitle:'−Z″ (Ω)', ytitleX:1256, ytitleY:398, ytitleLen:48});
series(H, hZx, hZy, {name:'nyquist-zif8', color:'#2c3cc0', m:'tri', ms:3, lw:1});
series(H, hMx, hMy, {name:'nyquist-mof5', color:'#111', m:'square', ms:2.4, lw:1});
series(H, hHx, hHy, {name:'nyquist-hkust', color:'#f39020', m:'circle', ms:2.8, lw:1});
legendRow(H, 1307, 315, 'circle', '#f39020', 'S@HKUST-1/CNT', 'legend-hkust', 14);
legendRow(H, 1307, 331, 'square', '#111', 'S@MOF-5/CNT', 'legend-mof5', 14);
legendRow(H, 1307, 347, 'tri', '#2c3cc0', 'S@ ZIF-8/CNT', 'legend-zif8', 14);

// ---------- (k) ----------
const K = makeAxes({name:'chart-k', x0:1068, x1:1262, y0:599.5, y1:790.3, xmin:0, xmax:70, ymin:0, ymax:1512,
  xticks:kXTicks, yticks:kYTicks, xtitle:'Cycle number', ytitle:'Capacity (mAh/g)', ytitleX:1017, ytitleY:697, ytitleLen:129});
kSteps.forEach(c => {
  const l = mk(K.g, 'line', {x1:K.sx(c), y1:615, x2:K.sx(c), y2:738, stroke:'#e070c0', 'stroke-width':0.8, 'stroke-dasharray':'4,3'});
  
  
});
series(K, range(70), kWith, {name:'capacity-with-mof-pvdf', color:'#3a9a4a', m:'ocircle', ms:3, lc:'#8fd08f'});
series(K, range(70), kWithout, {name:'capacity-without-mof-pvdf', color:'#f08a30', m:'ocircle', ms:3});
txt(K, 1084, 627, '0.1C', 14); txt(K, 1112, 645, '0.2C', 14); txt(K, 1139, 659, '0.5C', 14); txt(K, 1165, 670, '1C', 14); txt(K, 1193, 686, '2C', 14); txt(K, 1223, 704, '3C', 14); txt(K, 1247, 656, '0.1C', 14);
marker(K.g, 'ocircle', 1076, 758, 3.2, '#3a9a4a', 'legend-with-marker');
marker(K.g, 'ocircle', 1076, 776, 3.2, '#f08a30', 'legend-without-marker');
txt(K, 1082, 763, 'With MOF@PVDF-HFP', 14, 'start', 'legend-with');
txt(K, 1082, 781, 'Without MOF@PVDF-HFP', 14, 'start', 'legend-without');

// ---------- (l) ----------
const L = makeAxes({name:'chart-l', x0:1325, x1:1519, y0:596.5, y1:787.5, xmin:0, xmax:600, ymin:0, ymax:1512, rmax:110.6,
  xticks:lXTicks, yticks:lYTicks, rticks:lRTicks, xtitle:'Cycle number', ytitle:'Capacity (mAh/g)', ytitleX:1277, ytitleY:692, ytitleLen:135,
  rtitle:'Coulombic efficiency (%)', rtitleX:1563, rtitleLen:175});
series(L, lCycles, lCeWithout, {name:'ce-without-mof-pvdf', right:true, color:'#f09040', m:'ocircle', ms:3, lw:6, lc:'#f4a860'});
series(L, lCycles, lCeWith, {name:'ce-with-mof-pvdf', right:true, color:'#2e9040', m:'ocircle', ms:3, lw:6, lc:'#3a9a48'});
series(L, lCycles, lWithout, {name:'capacity-without-mof-pvdf', color:'#f08a30', m:'ocircle', ms:3.2, lw:7, lc:'#f4a050', lo:0.8});
series(L, lCycles, lWith, {name:'capacity-with-mof-pvdf', color:'#2e8a3e', m:'ocircle', ms:3.2, lw:7, lc:'#3a9a48', lo:0.8});
path(L, 'M1342,688 Q1342,700 1330,702', {'marker-end':'url(#ah)'}, 'left-axis-arrow');
path(L, 'M1497,627 Q1502,638 1514,640', {'marker-end':'url(#ah)'}, 'right-axis-arrow');
marker(L.g, 'ocircle', 1341, 751, 3.2, '#2e9040', 'legend-with-marker');
marker(L.g, 'ocircle', 1341, 769, 3.2, '#f08a30', 'legend-without-marker');
txt(L, 1348, 756, 'With MOF@PVDF-HFP', 14, 'start', 'legend-with');
txt(L, 1348, 774, 'Without MOF@PVDF-HFP', 14, 'start', 'legend-without');
</script>
</body></html>
